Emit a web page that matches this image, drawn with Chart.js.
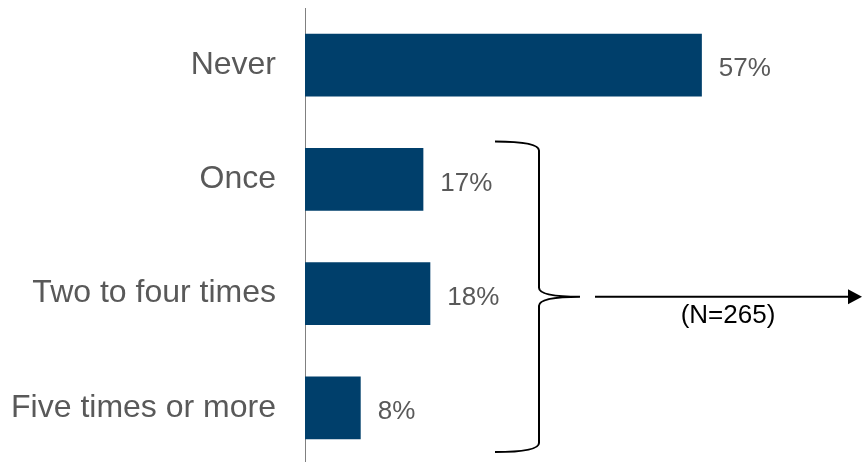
<!DOCTYPE html>
<html>
<head>
<meta charset="utf-8">
<script src="https://cdn.jsdelivr.net/npm/chart.js@4/dist/chart.umd.min.js"></script>
<style>
  html, body { margin: 0; padding: 0; background: #fff; overflow: hidden; }
  #wrap { width: 862px; height: 462px; overflow: hidden; }
</style>
</head>
<body>
<div id="wrap"><canvas id="myChart" width="862" height="465"></canvas></div>
<script>
const categories = ["Never", "Once", "Two to four times", "Five times or more"];
const shares = [57, 17, 18, 8];
const sampleNote = "(N=265)";

const FONT = '"Liberation Sans", Arial, sans-serif';
const GREY = "#595959";

// value labels next to each bar + bracket/arrow for the "at least once" group
const extras = {
  id: "extras",
  afterDatasetsDraw(chart) {
    const ctx = chart.ctx;
    const meta = chart.getDatasetMeta(0);
    const yScale = chart.scales.y;

    ctx.save();
    ctx.fillStyle = GREY;
    ctx.font = "26px " + FONT;
    ctx.textAlign = "left";
    ctx.textBaseline = "middle";
    meta.data.forEach((bar, i) => {
      ctx.fillText(shares[i] + "%", bar.x + 17, bar.y + 4);
    });

    // bracket spanning Once .. Five times or more
    const top = yScale.getPixelForValue(1) - 38;
    const bottom = yScale.getPixelForValue(3) + 44;
    const mid = (top + bottom) / 2;
    const xl = 495, xv = 539, xt = 580;
    ctx.strokeStyle = "#000";
    ctx.lineWidth = 2;
    ctx.beginPath();
    ctx.moveTo(xl, top);
    ctx.quadraticCurveTo(xv, top, xv, top + 9);
    ctx.lineTo(xv, mid - 9);
    ctx.quadraticCurveTo(xv, mid, xt, mid);
    ctx.quadraticCurveTo(xv, mid, xv, mid + 9);
    ctx.lineTo(xv, bottom - 9);
    ctx.quadraticCurveTo(xv, bottom, xl, bottom);
    ctx.stroke();

    // arrow
    ctx.beginPath();
    ctx.moveTo(595, mid);
    ctx.lineTo(850, mid);
    ctx.stroke();
    ctx.fillStyle = "#000";
    ctx.beginPath();
    ctx.moveTo(862, mid);
    ctx.lineTo(848, mid - 7.5);
    ctx.lineTo(848, mid + 7.5);
    ctx.closePath();
    ctx.fill();

    ctx.font = "26px " + FONT;
    ctx.textAlign = "center";
    ctx.fillText(sampleNote, 728, mid + 19);
    ctx.restore();
  }
};

const ctx = document.getElementById("myChart").getContext("2d");
const myChart = new Chart(ctx, {
  type: "bar",
  data: {
    labels: categories,
    datasets: [
      {
        data: shares,
        backgroundColor: "#003f6b",
        borderWidth: 0,
        barPercentage: 0.55,
        categoryPercentage: 1,
      },
    ],
  },
  options: {
    indexAxis: "y",
    responsive: false,
    animation: false,
    layout: { padding: { top: 8, right: 0, bottom: 0, left: 0 } },
    plugins: {
      legend: { display: false },
      tooltip: { enabled: false },
    },
    scales: {
      x: {
        display: false,
        min: 0,
        max: 80,
      },
      y: {
        grid: { display: false, drawTicks: false },
        border: { display: true, color: "#808080", width: 1 },
        ticks: {
          color: GREY,
          font: { family: FONT, size: 32 },
          padding: 29,
        },
        afterFit(scale) {
          scale.width = 305;
          scale.paddingTop = 0;
          scale.paddingBottom = 0;
        },
      },
    },
  },
  plugins: [extras],
});
</script>
</body>
</html>
